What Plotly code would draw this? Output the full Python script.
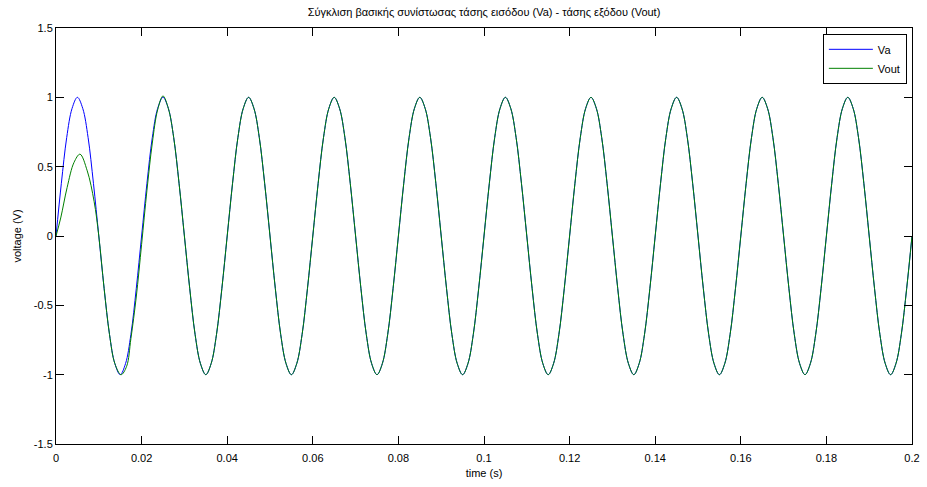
import plotly.graph_objects as go

# ---- data ----
t_va = [round(i * 0.00125, 5) for i in range(161)]
va = [0, 0.38, 0.71, 0.92, 1, 0.92, 0.71, 0.38, 0, -0.38, -0.71, -0.92, -1, -0.92, -0.71, -0.38,
      0, 0.38, 0.71, 0.92, 1, 0.92, 0.71, 0.38, 0, -0.38, -0.71, -0.92, -1, -0.92, -0.71, -0.38,
      0, 0.38, 0.71, 0.92, 1, 0.92, 0.71, 0.38, 0, -0.38, -0.71, -0.92, -1, -0.92, -0.71, -0.38,
      0, 0.38, 0.71, 0.92, 1, 0.92, 0.71, 0.38, 0, -0.38, -0.71, -0.92, -1, -0.92, -0.71, -0.38,
      0, 0.38, 0.71, 0.92, 1, 0.92, 0.71, 0.38, 0, -0.38, -0.71, -0.92, -1, -0.92, -0.71, -0.38,
      0, 0.38, 0.71, 0.92, 1, 0.92, 0.71, 0.38, 0, -0.38, -0.71, -0.92, -1, -0.92, -0.71, -0.38,
      0, 0.38, 0.71, 0.92, 1, 0.92, 0.71, 0.38, 0, -0.38, -0.71, -0.92, -1, -0.92, -0.71, -0.38,
      0, 0.38, 0.71, 0.92, 1, 0.92, 0.71, 0.38, 0, -0.38, -0.71, -0.92, -1, -0.92, -0.71, -0.38,
      0, 0.38, 0.71, 0.92, 1, 0.92, 0.71, 0.38, 0, -0.38, -0.71, -0.92, -1, -0.92, -0.71, -0.38,
      0, 0.38, 0.71, 0.92, 1, 0.92, 0.71, 0.38, 0, -0.38, -0.71, -0.92, -1, -0.92, -0.71, -0.38,
      0]

t_vout = [0, 0.0011, 0.0026, 0.0042, 0.0056, 0.0073, 0.0089, 0.01, 0.01125,
          0.0125, 0.01375, 0.0152, 0.0165, 0.0175, 0.01875, 0.02, 0.02125,
          0.0225, 0.02375, 0.025] + \
         [round(0.02625 + i * 0.00125, 5) for i in range(140)]
vout = [0, 0.13, 0.35, 0.53, 0.59, 0.47, 0.25, 0.0, -0.38,
        -0.71, -0.92, -1.0, -0.94, -0.74, -0.44, -0.06, 0.33,
        0.67, 0.91, 1.01,
        0.92, 0.71, 0.38, 0, -0.38, -0.71, -0.92, -1, -0.92, -0.71, -0.38,
        0, 0.38, 0.71, 0.92, 1, 0.92, 0.71, 0.38, 0, -0.38, -0.71, -0.92, -1, -0.92, -0.71, -0.38,
        0, 0.38, 0.71, 0.92, 1, 0.92, 0.71, 0.38, 0, -0.38, -0.71, -0.92, -1, -0.92, -0.71, -0.38,
        0, 0.38, 0.71, 0.92, 1, 0.92, 0.71, 0.38, 0, -0.38, -0.71, -0.92, -1, -0.92, -0.71, -0.38,
        0, 0.38, 0.71, 0.92, 1, 0.92, 0.71, 0.38, 0, -0.38, -0.71, -0.92, -1, -0.92, -0.71, -0.38,
        0, 0.38, 0.71, 0.92, 1, 0.92, 0.71, 0.38, 0, -0.38, -0.71, -0.92, -1, -0.92, -0.71, -0.38,
        0, 0.38, 0.71, 0.92, 1, 0.92, 0.71, 0.38, 0, -0.38, -0.71, -0.92, -1, -0.92, -0.71, -0.38,
        0, 0.38, 0.71, 0.92, 1, 0.92, 0.71, 0.38, 0, -0.38, -0.71, -0.92, -1, -0.92, -0.71, -0.38,
        0, 0.38, 0.71, 0.92, 1, 0.92, 0.71, 0.38, 0, -0.38, -0.71, -0.92, -1, -0.92, -0.71, -0.38,
        0]

x_ticks = [0, 0.02, 0.04, 0.06, 0.08, 0.1, 0.12, 0.14, 0.16, 0.18, 0.2]
x_labels = ["0", "0.02", "0.04", "0.06", "0.08", "0.1", "0.12", "0.14", "0.16", "0.18", "0.2"]
y_ticks = [-1.5, -1, -0.5, 0, 0.5, 1, 1.5]
y_labels = ["-1.5", "-1", "-0.5", "0", "0.5", "1", "1.5"]

title = "Σύγκλιση βασικής συνίστωσας τάσης εισόδου (Va) - τάσης εξόδου (Vout)"

FONT = "Liberation Sans, Arial, sans-serif"

fig = go.Figure()
fig.add_trace(go.Scatter(x=t_va, y=va, mode="lines", name="Va",
                         line=dict(color="#0000ff", width=1, shape="spline", smoothing=1.0)))
fig.add_trace(go.Scatter(x=t_vout, y=vout, mode="lines", name="Vout",
                         line=dict(color="#008000", width=1, shape="spline", smoothing=1.0)))

axis_common = dict(showline=True, linecolor="black", linewidth=1, mirror="ticks",
                   ticks="inside", ticklen=8, tickcolor="black", tickwidth=1,
                   showgrid=False, zeroline=False, automargin=False,
                   tickfont=dict(family=FONT, size=11, color="black"))

W, H = 927, 487
fig.update_layout(
    template="none",
    width=W, height=H,
    margin=dict(l=56, r=15, t=28, b=43, autoexpand=False),
    paper_bgcolor="white", plot_bgcolor="white",
    font=dict(family=FONT, size=11, color="black"),
    title=dict(text=title, x=0.5, xanchor="center", xref="paper",
               y=1 - 12 / H, yanchor="middle",
               font=dict(family=FONT, size=11, color="black")),
    xaxis=dict(range=[0, 0.2], tickvals=x_ticks, ticktext=x_labels, ticklabelstandoff=4,
               title=dict(text="time (s)", standoff=6, font=dict(size=11)), **axis_common),
    yaxis=dict(range=[-1.5, 1.5], tickvals=y_ticks, ticktext=y_labels,
               title=dict(text="voltage (V)", standoff=9, font=dict(size=11)), **axis_common),
    legend=dict(x=0.994, y=0.986, xanchor="right", yanchor="top",
                bgcolor="white", bordercolor="black", borderwidth=1,
                font=dict(family=FONT, size=11, color="black"),
                itemwidth=44, tracegroupgap=0),
    showlegend=True,
)

fig.write_html(
    "out.html",
    config={"displayModeBar": False},
    post_script="document.body.style.margin='0px';document.body.style.overflow='hidden';",
)
